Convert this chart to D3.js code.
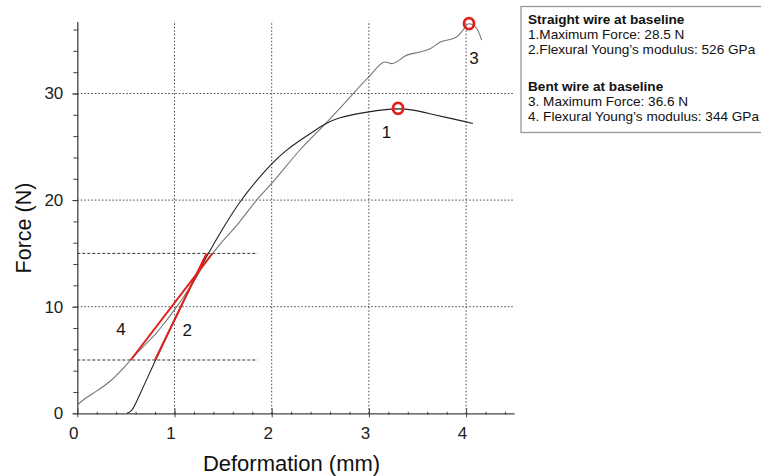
<!DOCTYPE html>
<html><head><meta charset="utf-8">
<script src="https://cdn.jsdelivr.net/npm/d3@7"></script>
<style>body{margin:0;background:#fff;} svg{display:block;font-family:"Liberation Sans",Arial,sans-serif;}</style>
</head><body>
<svg id="c" width="761" height="476"></svg>
<script>
// Straight wire at baseline (darker curve)
const straightX = [0.51,0.56,0.60,0.70,0.80,0.90,1.00,1.10,1.20,1.365,1.52,1.674,1.84,2.00,2.15,2.29,2.43,2.566,2.70,2.85,3.00,3.15,3.30,3.45,3.63,3.80,4.00,4.07];
const straightY = [0.0,0.2,0.9,2.9,4.9,6.8,8.7,10.6,12.5,15.3,17.7,19.9,21.8,23.45,24.7,25.6,26.45,27.25,27.75,28.05,28.28,28.48,28.6,28.48,28.1,27.75,27.34,27.19];
// Bent wire at baseline (lighter curve)
const bentX = [0.0,0.10,0.20,0.35,0.45,0.55,0.65,0.78,0.82,0.90,1.00,1.10,1.20,1.30,1.419,1.50,1.656,1.75,1.845,2.00,2.29,2.566,2.70,3.00,3.166,3.235,3.39,3.526,3.63,3.73,3.90,3.955,4.03,4.11,4.16];
const bentY = [0.78,1.5,2.1,3.1,4.0,5.0,6.0,7.2,7.6,8.5,9.7,11.0,12.4,13.9,15.3,16.2,17.8,18.9,20.0,21.56,24.7,27.3,28.6,31.56,32.96,32.8,33.6,33.9,34.2,34.8,35.3,35.8,36.55,36.1,35.0];
// Modulus fit lines (label, x0, y0, x1, y1)
const fitLabels = ["2","4"];
const fitX0 = [0.80,0.55], fitY0 = [5,5], fitX1 = [1.33,1.39], fitY1 = [15,15];
// Maximum-force markers
const maxLabels = ["1","3"];
const maxX = [3.30,4.03], maxY = [28.6,36.55];
const xTicks = [0,1,2,3,4];
const yTicks = [0,10,20,30];
const gridX = [1,2,3,4];
const gridY = [10,20,30];
const refY = [5,15];
const legendLines = [
  ["Straight wire at baseline", true],
  ["1.Maximum Force: 28.5 N", false],
  ["2.Flexural Young\u2019s modulus: 526 GPa", false],
  ["Bent wire at baseline", true],
  ["3. Maximum Force: 36.6 N", false],
  ["4. Flexural Young\u2019s modulus: 344 GPa", false]
];

const svg = d3.select("#c");
const x = d3.scaleLinear().domain([0,4.5]).range([77.3,514.7]);
const y = d3.scaleLinear().domain([0,10]).range([413.3,306.7]);
const yTop = 36.7;
const FONT = "Liberation Sans, Arial, sans-serif";

// grid
svg.append("g").selectAll("line").data(gridX).join("line")
  .attr("x1",d=>x(d)).attr("x2",d=>x(d)).attr("y1",y(0)).attr("y2",y(yTop)-1)
  .attr("stroke","#444").attr("stroke-width",1).attr("stroke-dasharray","1.5,2");
svg.append("g").selectAll("line").data(gridY).join("line")
  .attr("x1",x(0)).attr("x2",x(4.5)).attr("y1",d=>y(d)).attr("y2",d=>y(d))
  .attr("stroke","#444").attr("stroke-width",1).attr("stroke-dasharray","1.5,2");
svg.append("g").selectAll("line").data(refY).join("line")
  .attr("x1",x(0)).attr("x2",x(1.856)).attr("y1",d=>y(d)).attr("y2",d=>y(d))
  .attr("stroke","#333").attr("stroke-width",1).attr("stroke-dasharray","3,2");

// axes
const xAxisMinor = d3.axisBottom(x).tickValues(d3.range(0,4.51,0.2)).tickSize(3).tickFormat("");
const gxm = svg.append("g").attr("transform",`translate(0,${y(0)-1.5})`).call(xAxisMinor);
gxm.select(".domain").remove();
gxm.selectAll("line").attr("stroke","#444");
const xAxis = d3.axisBottom(x).tickValues(xTicks).tickSize(4).tickFormat(d3.format("d"));
const gx = svg.append("g").attr("transform",`translate(0,${y(0)})`).call(xAxis);
gx.select(".domain").attr("d",`M${x(0)},0.5H${x(4.5)}`).attr("stroke","#444").attr("stroke-width",1.3);
gx.selectAll(".tick line").attr("y1",-5).attr("y2",4).attr("stroke","#444");
gx.selectAll(".tick text").attr("font-size",17).attr("fill","#222").attr("dx",-4).attr("y",14).attr("font-family",FONT);

const yAxisMinor = d3.axisLeft(y).tickValues(d3.range(0,36.1,2)).tickSize(5).tickFormat("");
const gym = svg.append("g").attr("transform",`translate(${x(0)+1},0)`).call(yAxisMinor);
gym.select(".domain").remove();
gym.selectAll("line").attr("stroke","#444");
const yAxis = d3.axisLeft(y).tickValues(yTicks).tickSize(5).tickPadding(9).tickFormat(d3.format("d"));
const gy = svg.append("g").attr("transform",`translate(${x(0)},0)`).call(yAxis);
gy.select(".domain").attr("d",`M0.5,${y(0)}V${y(yTop)}`).attr("stroke","#444").attr("stroke-width",1.3);
gy.selectAll(".tick line").attr("stroke","#444");
gy.selectAll(".tick text").attr("font-size",17).attr("fill","#222").attr("font-family",FONT);

// curves
const lineGray = d3.line().x(d=>x(d[0])).y(d=>y(d[1])).curve(d3.curveMonotoneX);
const lineBlack = d3.line().x(d=>x(d[0])).y(d=>y(d[1])).curve(d3.curveBasis);
svg.append("path").datum(bentX.map((v,i)=>[v,bentY[i]])).attr("d",lineGray)
  .attr("fill","none").attr("stroke","#6f7a72").attr("stroke-width",1.1);
svg.append("path").datum(straightX.map((v,i)=>[v,straightY[i]])).attr("d",lineBlack)
  .attr("fill","none").attr("stroke","#222").attr("stroke-width",1.1);

// fit lines
svg.append("g").selectAll("line").data(fitLabels).join("line")
  .attr("x1",(d,i)=>x(fitX0[i])).attr("y1",(d,i)=>y(fitY0[i]))
  .attr("x2",(d,i)=>x(fitX1[i])).attr("y2",(d,i)=>y(fitY1[i]))
  .attr("stroke","#e0201c").attr("stroke-width",2);
const fitLabX = [1.13,0.45], fitLabY = [7.25,7.3];
svg.append("g").selectAll("text").data(fitLabels).join("text")
  .attr("x",(d,i)=>x(fitLabX[i])).attr("y",(d,i)=>y(fitLabY[i]))
  .attr("text-anchor","middle").attr("font-size",17).attr("fill","#111").text(d=>d);

// max markers
svg.append("g").selectAll("ellipse").data(maxLabels).join("ellipse")
  .attr("cx",(d,i)=>x(maxX[i])).attr("cy",(d,i)=>y(maxY[i]))
  .attr("rx",5).attr("ry",5.5).attr("fill","none").attr("stroke","#e0201c").attr("stroke-width",2.8);
const maxLabX = [3.18,4.08], maxLabY = [25.85,32.75];
svg.append("g").selectAll("text").data(maxLabels).join("text")
  .attr("x",(d,i)=>x(maxLabX[i])).attr("y",(d,i)=>y(maxLabY[i]))
  .attr("text-anchor","middle").attr("font-size",17).attr("fill","#111").text(d=>d);

// axis titles
svg.append("text").attr("x",291.5).attr("y",471).attr("text-anchor","middle")
  .attr("font-size",22).attr("fill","#111").text("Deformation (mm)");
svg.append("text").attr("transform","translate(31,228) rotate(-90)").attr("text-anchor","middle")
  .attr("font-size",21.5).attr("fill","#111").text("Force (N)");

// legend box
svg.append("rect").attr("x",521).attr("y",6.5).attr("width",250).attr("height",126)
  .attr("fill","#fff").attr("stroke","#999").attr("stroke-width",1.3);
svg.append("g").selectAll("text").data(legendLines).join("text")
  .attr("x",528).attr("y",(d,i)=> i < 3 ? 24 + i*15 : 91 + (i-3)*15)
  .attr("font-size",13.6).attr("font-weight",d=>d[1]?"bold":"normal").attr("fill","#111")
  .text(d=>d[0]);
</script>
</body></html>
